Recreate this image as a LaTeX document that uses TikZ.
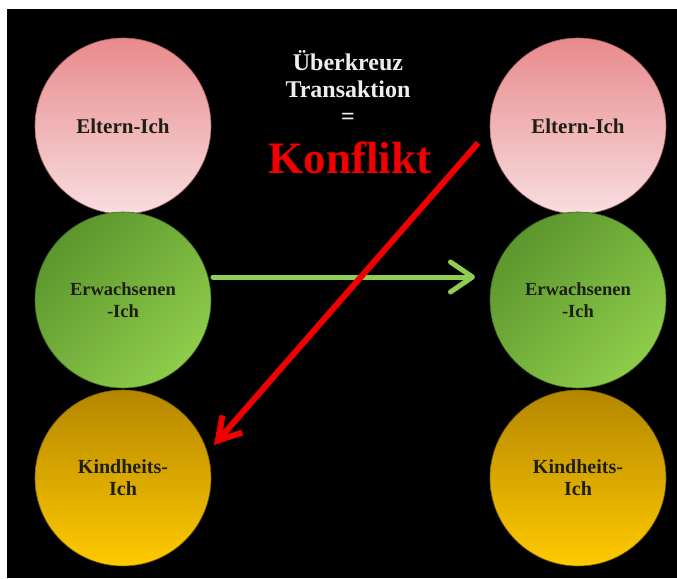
\documentclass[tikz,border=0pt]{standalone}
\usepackage{fontspec}
\setmainfont{Liberation Serif}
\usetikzlibrary{arrows.meta,calc}
\definecolor{pinkTop}{RGB}{232,138,140}
\definecolor{pinkBot}{RGB}{248,222,224}
\definecolor{grnDark}{RGB}{92,150,46}
\definecolor{grnLight}{RGB}{142,204,74}
\definecolor{orTop}{RGB}{180,134,0}
\definecolor{orBot}{RGB}{255,202,0}
\definecolor{arrowGreen}{RGB}{143,206,82}
\definecolor{konflRed}{RGB}{240,0,0}
\definecolor{titleWhite}{RGB}{238,238,238}
\definecolor{labelDark}{RGB}{30,30,20}
\tikzset{
  egostate/.style={circle, minimum size=176pt, inner sep=0pt, align=center,
    text=labelDark, font=\bfseries\fontsize{21}{22}\selectfont},
  parentstate/.style={egostate, top color=pinkTop, bottom color=pinkBot, draw=pinkTop!70!black, line width=0.6pt},
  adultstate/.style={egostate, top color=grnDark, bottom color=grnLight, shading angle=45, draw=grnDark!70!black, line width=0.6pt,
    font=\bfseries\fontsize{18.5}{22}\selectfont},
  childstate/.style={egostate, top color=orTop, bottom color=orBot, draw=orTop!70!black, line width=0.6pt,
    font=\bfseries\fontsize{20}{22}\selectfont},
  transgreen/.style={draw=arrowGreen, line width=5pt, line cap=round,
    -{Straight Barb[length=22pt,width=30pt,line cap=round,line join=round]}},
  transred/.style={draw=konflRed, line width=6pt,
    -{Straight Barb[length=22pt,width=26pt,line join=miter]}}
}
\begin{document}
\begin{tikzpicture}[x=1pt,y=-1pt]
\useasboundingbox (0,0) rectangle (677,578);
\fill[black] (7,9) rectangle (677,578);
\node[parentstate] (pL) at (123,126) {Eltern-Ich};
\node[adultstate]  (aL) at (123,300) {Erwachsenen\\-Ich};
\node[childstate]  (kL) at (123,478) {Kindheits-\\Ich};
\node[parentstate] (pR) at (578,126) {Eltern-Ich};
\node[adultstate]  (aR) at (578,300) {Erwachsenen\\-Ich};
\node[childstate]  (kR) at (578,478) {Kindheits-\\Ich};
\node[align=center, text=titleWhite, font=\bfseries\fontsize{24}{27}\selectfont] (title) at (348,88) {Überkreuz\\Transaktion\\=};
\node[text=konflRed, font=\bfseries\fontsize{45}{50}\selectfont] (konfl) at (350,158) {Konflikt};
\draw[transgreen] ($(aL.center)+(90,-23)$) -- ($(aR.center)+(-103,-23)$);
\draw[transred] ($(pR.center)+(-100,17)$) -- ($(kL.center)+(91,-33)$);
\end{tikzpicture}
\end{document}
